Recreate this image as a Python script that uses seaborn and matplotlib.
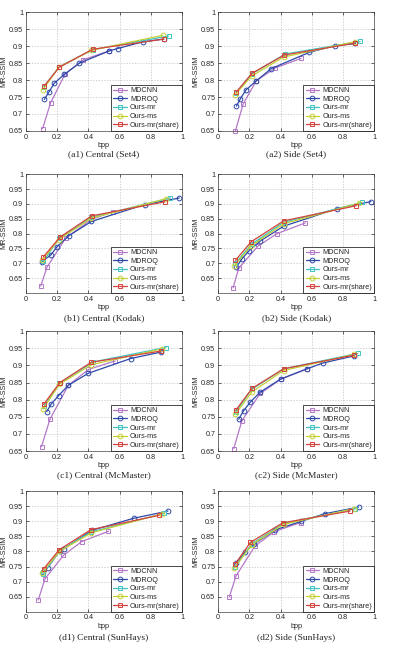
import numpy as np
import pandas as pd
import seaborn as sns
import matplotlib
matplotlib.use('Agg')
import matplotlib.pyplot as plt
from matplotlib.ticker import FixedLocator, FuncFormatter

methods = ['MDCNN', 'MDROQ', 'Ours-mr', 'Ours-ms', 'Ours-mr(share)']
colors = ['#b478c8', '#2c48a8', '#40c4c4', '#c4d038', '#d4443c']
markers = ['s', 'o', 's', 'o', 's']

titles = ['(a1) Central (Set4)', '(a2) Side (Set4)',
          '(b1) Central (Kodak)', '(b2) Side (Kodak)',
          '(c1) Central (McMaster)', '(c2) Side (McMaster)',
          '(d1) Central (SunHays)', '(d2) Side (SunHays)']

# each panel: method -> (bpp list, MR-SSIM list)
a1 = {
  'MDCNN':          ([0.107, 0.158, 0.25, 0.368, 0.533], [0.657, 0.733, 0.817, 0.86, 0.886]),
  'MDROQ':          ([0.118, 0.148, 0.18, 0.246, 0.343, 0.533, 0.587, 0.75, 0.884], [0.743, 0.765, 0.79, 0.817, 0.85, 0.886, 0.893, 0.913, 0.921]),
  'Ours-mr':        ([0.115, 0.215, 0.43, 0.914], [0.78, 0.84, 0.89, 0.93]),
  'Ours-ms':        ([0.11, 0.21, 0.42, 0.876], [0.772, 0.838, 0.888, 0.932]),
  'Ours-mr(share)': ([0.118, 0.214, 0.428, 0.884], [0.783, 0.838, 0.891, 0.921]),
}
a2 = {
  'MDCNN':          ([0.111, 0.16, 0.245, 0.367, 0.531], [0.65, 0.729, 0.798, 0.836, 0.864]),
  'MDROQ':          ([0.117, 0.143, 0.179, 0.245, 0.341, 0.585, 0.746, 0.88], [0.723, 0.745, 0.771, 0.798, 0.834, 0.882, 0.901, 0.908]),
  'Ours-mr':        ([0.115, 0.215, 0.43, 0.91], [0.762, 0.818, 0.877, 0.914]),
  'Ours-ms':        ([0.11, 0.215, 0.42, 0.875], [0.757, 0.812, 0.868, 0.913]),
  'Ours-mr(share)': ([0.117, 0.217, 0.424, 0.878], [0.765, 0.82, 0.874, 0.909]),
}
b1 = {
  'MDCNN':          ([0.095, 0.135, 0.255, 0.42, 0.56], [0.623, 0.687, 0.785, 0.848, 0.874]),
  'MDROQ':          ([0.1, 0.158, 0.2, 0.275, 0.42, 0.76, 0.983], [0.705, 0.727, 0.756, 0.793, 0.841, 0.898, 0.92]),
  'Ours-mr':        ([0.11, 0.215, 0.42, 0.925], [0.706, 0.785, 0.855, 0.92]),
  'Ours-ms':        ([0.105, 0.21, 0.42, 0.9], [0.71, 0.78, 0.852, 0.918]),
  'Ours-mr(share)': ([0.111, 0.218, 0.422, 0.889], [0.721, 0.788, 0.86, 0.907]),
}
b2 = {
  'MDCNN':          ([0.096, 0.132, 0.254, 0.377, 0.559], [0.617, 0.683, 0.757, 0.8, 0.836]),
  'MDROQ':          ([0.117, 0.153, 0.2, 0.27, 0.42, 0.761, 0.979], [0.687, 0.715, 0.743, 0.775, 0.825, 0.884, 0.908]),
  'Ours-mr':        ([0.11, 0.215, 0.42, 0.92], [0.7, 0.765, 0.838, 0.905]),
  'Ours-ms':        ([0.105, 0.21, 0.42, 0.905], [0.692, 0.758, 0.833, 0.903]),
  'Ours-mr(share)': ([0.111, 0.213, 0.42, 0.885], [0.71, 0.773, 0.843, 0.894]),
}
c1 = {
  'MDCNN':          ([0.1, 0.154, 0.272, 0.4, 0.572], [0.663, 0.743, 0.842, 0.888, 0.913]),
  'MDROQ':          ([0.133, 0.16, 0.21, 0.272, 0.4, 0.672, 0.867], [0.765, 0.786, 0.812, 0.842, 0.877, 0.92, 0.939]),
  'Ours-mr':        ([0.115, 0.215, 0.43, 0.895], [0.78, 0.848, 0.91, 0.952]),
  'Ours-ms':        ([0.11, 0.215, 0.42, 0.87], [0.773, 0.845, 0.902, 0.948]),
  'Ours-mr(share)': ([0.113, 0.218, 0.418, 0.867], [0.786, 0.85, 0.909, 0.942]),
}
c2 = {
  'MDCNN':          ([0.1, 0.153, 0.27, 0.4, 0.57], [0.657, 0.739, 0.818, 0.859, 0.89]),
  'MDROQ':          ([0.132, 0.164, 0.207, 0.27, 0.4, 0.57, 0.672, 0.874], [0.743, 0.768, 0.793, 0.822, 0.86, 0.89, 0.907, 0.928]),
  'Ours-mr':        ([0.115, 0.215, 0.42, 0.895], [0.765, 0.83, 0.89, 0.935]),
  'Ours-ms':        ([0.11, 0.215, 0.42, 0.87], [0.757, 0.822, 0.885, 0.932]),
  'Ours-mr(share)': ([0.113, 0.218, 0.42, 0.874], [0.769, 0.833, 0.89, 0.93]),
}
d1 = {
  'MDCNN':          ([0.079, 0.122, 0.24, 0.358, 0.529], [0.639, 0.709, 0.787, 0.833, 0.867]),
  'MDROQ':          ([0.107, 0.139, 0.218, 0.244, 0.422, 0.69, 0.91], [0.731, 0.746, 0.803, 0.809, 0.87, 0.91, 0.934]),
  'Ours-mr':        ([0.11, 0.21, 0.42, 0.885], [0.725, 0.8, 0.865, 0.926]),
  'Ours-ms':        ([0.105, 0.215, 0.42, 0.875], [0.73, 0.8, 0.862, 0.925]),
  'Ours-mr(share)': ([0.113, 0.214, 0.415, 0.854], [0.742, 0.806, 0.872, 0.92]),
}
d2 = {
  'MDCNN':          ([0.072, 0.115, 0.235, 0.36, 0.53], [0.649, 0.719, 0.817, 0.866, 0.896]),
  'MDROQ':          ([0.117, 0.171, 0.228, 0.367, 0.533, 0.682, 0.9], [0.763, 0.797, 0.824, 0.872, 0.9, 0.925, 0.947]),
  'Ours-mr':        ([0.11, 0.215, 0.42, 0.88], [0.75, 0.825, 0.893, 0.942]),
  'Ours-ms':        ([0.105, 0.215, 0.42, 0.87], [0.745, 0.822, 0.89, 0.942]),
  'Ours-mr(share)': ([0.109, 0.207, 0.414, 0.846], [0.758, 0.83, 0.895, 0.934]),
}
panels = [a1, a2, b1, b2, c1, c2, d1, d2]
ybottoms = [0.65, 0.65, 0.6, 0.6, 0.65, 0.65, 0.6, 0.6]
yticks = [0.65, 0.7, 0.75, 0.8, 0.85, 0.9, 0.95, 1.0]
xticks = [0, 0.2, 0.4, 0.6, 0.8, 1.0]

sns.set_style('ticks')
plt.rcParams['font.family'] = ['Liberation Sans', 'DejaVu Sans']

fig = plt.figure(figsize=(3.93, 6.48), dpi=100)

lefts = [0.066, 0.555]
rows = [(0.798, 0.183), (0.548, 0.183), (0.304, 0.185), (0.056, 0.186)]
title_y = [0.762, 0.509, 0.267, 0.016]

fmt = FuncFormatter(lambda v, p: '%g' % v)

for i, panel in enumerate(panels):
  r, c = divmod(i, 2)
  ax = fig.add_axes([lefts[c], rows[r][0], 0.397, rows[r][1]])
  recs = []
  for m in methods:
    xs, ys = panel[m]
    for x, y in zip(xs, ys):
      recs.append({'bpp': x, 'ssim': y, 'method': m})
  df = pd.DataFrame(recs)
  sns.lineplot(data=df, x='bpp', y='ssim', hue='method', style='method',
               hue_order=methods, style_order=methods,
               palette=colors, markers=markers, dashes=False,
               sort=False, estimator=None, legend=False, ax=ax,
               lw=0.9, markersize=3.4)
  for line, col in zip(ax.lines, colors):
    line.set_markerfacecolor('none')
    line.set_markeredgecolor(col)
    line.set_markeredgewidth(0.7)
    line.set_clip_on(False)
  leg = ax.legend(ax.lines[:5], methods, loc='lower right', fontsize=5.2,
                  frameon=True, fancybox=False, edgecolor='black',
                  framealpha=1, borderpad=0.3, labelspacing=0.22,
                  handlelength=1.9, handletextpad=0.4, borderaxespad=0.0)
  leg.get_frame().set_linewidth(0.5)
  leg.set_zorder(5)

  ax.set_xlim(0, 1)
  ax.set_ylim(ybottoms[i], 1)
  ax.xaxis.set_major_locator(FixedLocator(xticks))
  ax.yaxis.set_major_locator(FixedLocator(yticks))
  ax.xaxis.set_major_formatter(fmt)
  ax.yaxis.set_major_formatter(fmt)
  ax.grid(True, linestyle=(0, (2.5, 2.5)), lw=0.4, color='#b0b0b0')
  ax.tick_params(direction='in', length=2, width=0.5, labelsize=5.2,
                 pad=2, top=True, right=True)
  for s in ax.spines.values():
    s.set_linewidth(0.5)
    s.set_color('#404040')
  ax.set_xlabel('bpp', fontsize=5.2, labelpad=1.0)
  ax.set_ylabel('MR-SSIM', fontsize=5.2, labelpad=1)

  fig.text(lefts[c] + 0.397 / 2, title_y[r], titles[i], ha='center',
           va='center', fontsize=6.8, family=['Liberation Serif', 'DejaVu Serif'])

fig.savefig('out.png', dpi=100)
